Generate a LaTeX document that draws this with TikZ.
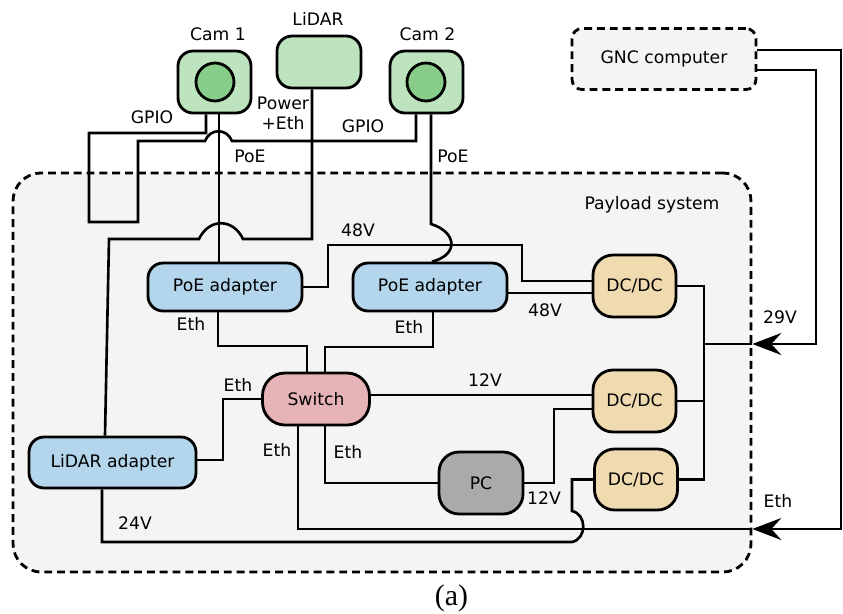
\documentclass[tikz,border=0pt]{standalone}
\usepackage{fontspec}
\setmainfont{DejaVu Sans}
\newfontfamily\captionfont{Liberation Serif}
\usepackage{tikz}
\usetikzlibrary{arrows.meta}
\definecolor{camgreen}{HTML}{BDE4BE}
\definecolor{lensgreen}{HTML}{88CC8A}
\definecolor{adapterblue}{HTML}{B4D6EC}
\definecolor{switchred}{HTML}{E6B4B6}
\definecolor{convtan}{HTML}{F0DBB0}
\definecolor{pcgray}{HTML}{AAAAAA}
\definecolor{regiongray}{HTML}{F4F4F4}

\begin{document}
\begin{tikzpicture}[
            x=0.02cm, y=-0.02cm,
            font=\fontsize{9.8}{11.3}\selectfont,
            base/.style={draw=black,line width=1.6pt,rounded corners=0.3cm,inner sep=1pt,align=center},
            camera/.style={base,fill=camgreen,minimum width=1.46cm,minimum height=1.24cm},
            lens/.style={circle,draw=black,line width=1.6pt,fill=lensgreen,minimum size=0.76cm,inner sep=0pt},
            adapter/.style={base,fill=adapterblue},
            converter/.style={base,fill=convtan,rounded corners=0.4cm,minimum width=1.66cm,minimum height=1.24cm},
            region/.style={draw=black,line width=1.6pt,dash pattern=on 4.5pt off 2.8pt,fill=regiongray},
            wire/.style={draw=black,line width=1.5pt},
            feed/.style={wire,-{Stealth[length=0.58cm,width=0.44cm,inset=0.2cm]}},
            tag/.style={inner sep=0pt,text depth=0pt},
        ]
            \useasboundingbox (0,0) rectangle (843,613);

            %--- Payload region and GNC computer ---%
            \node[region,rounded corners=0.56cm,minimum width=14.76cm,minimum height=7.98cm] (payload) at (382,372.5) {};
            \node[tag] (payloadlbl) at (652,203) {Payload system};
            \node[region,rounded corners=0.2cm,minimum width=3.68cm,minimum height=1.22cm] (gnc) at (664,59) {GNC computer};

            %--- Sensors ---%
            \node[camera] (cam1) at (214.5,82) {};
            \node[lens] (lens1) at (215,82) {};
            \node[tag] (cam1lbl) at (218,34) {Cam 1};
            \node[camera,minimum width=1.68cm,minimum height=1.04cm] (lidar) at (319,62) {};
            \node[tag] (lidarlbl) at (318,19) {LiDAR};
            \node[camera] (cam2) at (426.5,82) {};
            \node[lens] (lens2) at (426,82) {};
            \node[tag] (cam2lbl) at (427.5,34) {Cam 2};

            %--- Payload units ---%
            \node[adapter,minimum width=3.08cm,minimum height=0.96cm] (poe1) at (225,287) {PoE adapter};
            \node[adapter,minimum width=3.08cm,minimum height=0.96cm] (poe2) at (430,287) {PoE adapter};
            \node[adapter,minimum width=3.34cm,minimum height=1.02cm] (lidaradp) at (112.5,462.5) {LiDAR adapter};
            \node[base,fill=switchred,rounded corners=0.45cm,minimum width=2.14cm,minimum height=1.04cm] (switch) at (316,399) {Switch};
            \node[base,fill=pcgray,rounded corners=0.4cm,minimum width=1.68cm,minimum height=1.24cm] (pc) at (481,483) {PC};
            \node[converter] (dcdc1) at (634.5,286) {DC/DC};
            \node[converter] (dcdc2) at (634.5,401) {DC/DC};
            \node[converter,minimum height=1.22cm] (dcdc3) at (636,479.5) {DC/DC};

            \coordinate (bus) at (704,344);
            \coordinate (pwrin) at (payload.east |- bus);
            \coordinate (ethin) at (payload.east |- 0,529);

            %--- Camera and LiDAR cables ---%
            \draw[wire] (cam1.south -| 206,0) -- (206,133) -- (89,133) -- (89,222) -- (138,222) -- (138,141) -- (205,141)
                .. controls (210,128) and (227,128) .. (232,141) -- (416,141) -- (cam2.south -| 416,0);
            \draw[wire] (cam1.south -| 219,0) -- (poe1.north -| 219,0);
            \draw[wire] (lidar.south -| 312,0) -- (312,239) -- (243,239) .. controls (233,218) and (209,218) .. (199,239)
                -- (109,239) -- (lidaradp.north -| 105,0);
            \draw[wire] (cam2.south -| 431,0) -- (431,224) .. controls (457,232) and (459,255) .. (poe2.north -| 432,0);

            %--- Power ---%
            \draw[wire] (poe1.east) -| (328,245) -| (522,281) -- (dcdc1.west |- 0,281);
            \draw[wire] (poe2.east |- 0,293) -- (dcdc1.west |- 0,293);
            \draw[wire] (switch.east |- 0,395) -- (dcdc2.west |- 0,395);
            \draw[wire] (pc.east) -| (554,409) -- (dcdc2.west |- 0,409);
            \draw[wire] (lidaradp.south -| 102,0) |- (572,542) .. controls (587,539) and (587,514) .. (572,511) |- (dcdc3.west);
            \draw[wire] (dcdc1.east) -| (bus |- dcdc3.east) -- (dcdc3.east);
            \draw[wire] (dcdc2.east) -- (bus |- dcdc2.east);
            \draw[wire] (bus) -- (pwrin);

            %--- Ethernet ---%
            \draw[wire] (poe1.south -| 218,0) |- (307,346) -- (switch.north -| 307,0);
            \draw[wire] (poe2.south -| 433,0) |- (325,347) -- (switch.north -| 325,0);
            \draw[wire] (switch.west) -| (223,460) -- (lidaradp.east |- 0,460);
            \draw[wire] (switch.south -| 325,0) |- (pc.west);
            \draw[wire] (switch.south -| 298,0) |- (ethin);

            %--- Links from the GNC computer ---%
            \draw[feed] (gnc.east |- 0,50) -| (841,529) -- (ethin);
            \draw[feed] (gnc.east |- 0,70) -| (816,344) -- (pwrin);

            %--- Cable labels ---%
            \node[tag] (gpio1) at (152,117) {GPIO};
            \node[tag] (gpio2) at (363,126) {GPIO};
            \node[tag,align=center] (pwrlbl) at (283,113) {Power\\+Eth};
            \node[tag] (poe1lbl) at (250,156) {PoE};
            \node[tag] (poe2lbl) at (453,156) {PoE};
            \node[tag] (v48a) at (358,230) {48V};
            \node[tag] (v48b) at (545,310) {48V};
            \node[tag] (eth1) at (191,324) {Eth};
            \node[tag] (eth2) at (409,327) {Eth};
            \node[tag] (eth3) at (238,385) {Eth};
            \node[tag] (v12a) at (485,380) {12V};
            \node[tag] (eth4) at (277,450) {Eth};
            \node[tag] (eth5) at (348,452) {Eth};
            \node[tag] (v12b) at (544,498) {12V};
            \node[tag] (v24) at (135,523) {24V};
            \node[tag] (v29) at (780,317) {29V};
            \node[tag] (eth6) at (778,501) {Eth};

            \node[tag,font=\captionfont\fontsize{17}{19}\selectfont] (caption) at (451.5,595) {(a)};
        \end{tikzpicture}
\end{document}
